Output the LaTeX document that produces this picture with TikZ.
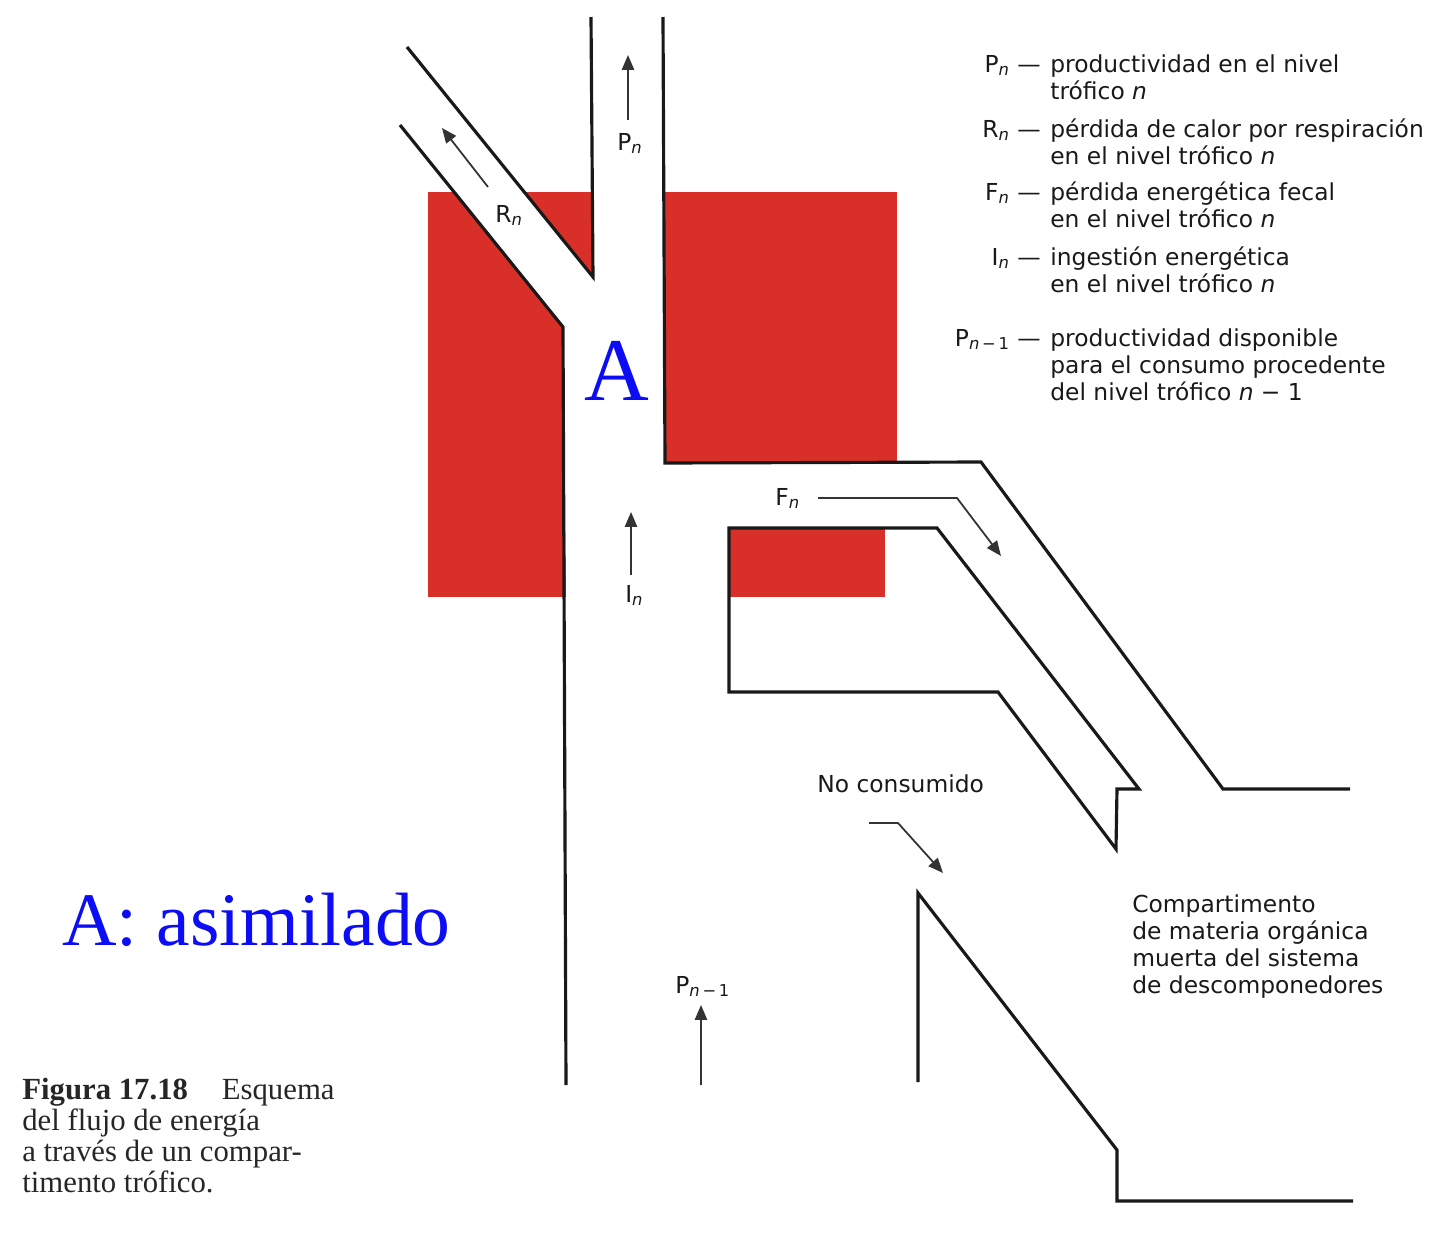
\documentclass[tikz,border=0pt]{standalone}
\usepackage{fontspec}
\setmainfont{Liberation Serif}
\newfontfamily\lblfont{DejaVu Sans}
\usepackage{xcolor}
\usetikzlibrary{arrows.meta}
\definecolor{comprojo}{RGB}{216,48,40}
\definecolor{asimazul}{RGB}{12,12,245}
\newcommand{\subn}[1]{\textsubscript{\itshape #1}}

\begin{document}
\begin{tikzpicture}[
    x=0.02cm, y=-0.02cm,
    wall/.style={line width=1.8pt, draw=black!90, line join=miter},
    flow/.style={line width=1pt, draw=black!80, -{Triangle[length=8.5pt, width=7pt]}},
    lbl/.style={font=\lblfont\fontsize{13.3}{15.3}\selectfont, inner sep=0pt, text=black!90},
    keytxt/.style={lbl, anchor=base east},
    desctxt/.style={lbl, anchor=base west, align=left}
]
    \useasboundingbox (0,0) rectangle (1448,1234);

    % Red compartments
    \fill[comprojo] (428,192) rectangle (593,597);
    \fill[comprojo] (665,192) rectangle (897,463);
    \fill[comprojo] (729,528) rectangle (885,597);
    % white channel of R and I
    \fill[white] (400,125) -- (563,327) -- (566,600) -- (593,600) -- (593,277) -- (407,47) -- cycle;

    % Walls of the channels
    \draw[wall] (400,125) -- (563,327) -- (566,1085);
    \draw[wall] (407,47) -- (593,277) -- (591,17);
    \draw[wall] (663,17) -- (665,463) -- (981,462) -- (1223,789) -- (1350,789);
    \draw[wall] (729,528) -- (937,528) -- (1139,789) -- (1117,789) -- (1116,849) -- (998,692) -- (729,692) -- cycle;
    \draw[wall] (918,1082) -- (918,893) -- (1117,1150) -- (1117,1201) -- (1353,1201);

    % Flow arrows
    \coordinate (pnTail) at (628,120);
    \coordinate (pnHead) at (628,55);
    \coordinate (rnTail) at (488,187);
    \coordinate (rnHead) at (442,128);
    \coordinate (inTail) at (631,575);
    \coordinate (inHead) at (631,512);
    \coordinate (fnTail) at (818,498);
    \coordinate (fnBend) at (957,498);
    \coordinate (fnHead) at (1001,556);
    \coordinate (ncTail) at (869,823);
    \coordinate (ncBend) at (898,823);
    \coordinate (ncHead) at (943,873);
    \coordinate (pmTail) at (701,1085);
    \coordinate (pmHead) at (701,1005);

    \draw[flow] (pnTail) -- (pnHead);
    \draw[flow] (rnTail) -- (rnHead);
    \draw[flow] (inTail) -- (inHead);
    \draw[flow] (fnTail) -- (fnBend) -- (fnHead);
    \draw[flow] (ncTail) -- (ncBend) -- (ncHead);
    \draw[flow] (pmTail) -- (pmHead);

    % Labels in the diagram
    \node[lbl, anchor=base west] (pnLbl) at (617,150) {P\subn{n}};
    \node[lbl, anchor=base west] (rnLbl) at (495,222) {R\subn{n}};
    \node[lbl, anchor=base west] (fnLbl) at (775,505) {F\subn{n}};
    \node[lbl, anchor=base west] (inLbl) at (625,602) {I\subn{n}};
    \node[lbl, anchor=base west] (pmLbl) at (675,993) {P\textsubscript{\itshape n\upshape\,−\,1}};
    \node[lbl, anchor=base west] (noCons) at (817,792) {No consumido};
    % multi-line nodes sit on their last line
    \node[desctxt] (compMuerta) at (1132,993) {Compartimento\\de materia orgánica\\muerta del sistema\\de descomponedores};

    \node[anchor=base, text=asimazul, font=\fontsize{51}{51}\selectfont, inner sep=0pt] (bigA) at (617,400) {A};
    \node[anchor=base west, text=asimazul, font=\fontsize{43}{43}\selectfont, inner sep=0pt] (asimLbl) at (62,945) {A: asimilado};

    % Legend
    \node[keytxt] (kPn) at (1041,72) {P\subn{n} —};
    \node[desctxt] (dPn) at (1050,99) {productividad en el nivel\\trófico \textit{n}};
    \node[keytxt] (kRn) at (1041,137) {R\subn{n} —};
    \node[desctxt] (dRn) at (1050,164) {pérdida de calor por respiración\\en el nivel trófico \textit{n}};
    \node[keytxt] (kFn) at (1041,200) {F\subn{n} —};
    \node[desctxt] (dFn) at (1050,227) {pérdida energética fecal\\en el nivel trófico \textit{n}};
    \node[keytxt] (kIn) at (1041,265) {I\subn{n} —};
    \node[desctxt] (dIn) at (1050,292) {ingestión energética\\en el nivel trófico \textit{n}};
    \node[keytxt] (kPm) at (1041,346) {P\textsubscript{\itshape n\upshape\,−\,1} —};
    \node[desctxt] (dPm) at (1050,400) {productividad disponible\\para el consumo procedente\\del nivel trófico \textit{n} − 1};

    % Caption
    \node[anchor=base west, align=left, inner sep=0pt, text=black!85, font=\fontsize{17.5}{17.5}\selectfont] (caption) at (22,1192)
        {\textbf{Figura 17.18}\hspace{1.1em}Esquema\\del flujo de energía\\a través de un compar-\\timento trófico.};
\end{tikzpicture}
\end{document}
